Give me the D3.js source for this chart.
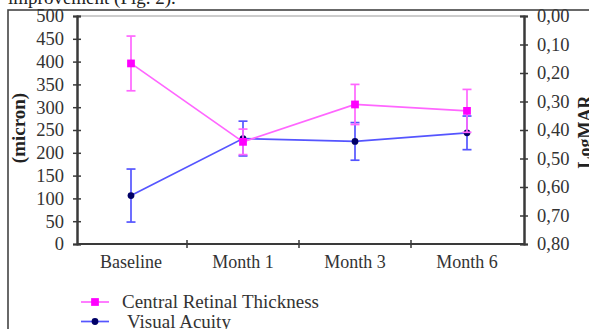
<!DOCTYPE html>
<html><head><meta charset="utf-8">
<script src="https://cdn.jsdelivr.net/npm/d3@7"></script>
<style>
html,body{margin:0;padding:0;background:#fff;overflow:hidden;}
svg{display:block;}
</style></head>
<body><svg id="c" width="589" height="329"></svg>
<script>
const categories = ["Baseline", "Month 1", "Month 3", "Month 6"];
const crtMean = [396, 224, 306, 292];
const crtErr  = [60, 28, 44, 47];
const vaMean  = [0.63, 0.43, 0.44, 0.41];
const vaErr   = [0.093, 0.061, 0.066, 0.059];
const leftTicks = [0, 50, 100, 150, 200, 250, 300, 350, 400, 450, 500];
const rightTicks = [0, 0.1, 0.2, 0.3, 0.4, 0.5, 0.6, 0.7, 0.8];
const seriesNames = ["Central Retinal Thickness", "Visual Acuity"];

const svg = d3.select("#c");
const font = "'Liberation Serif', 'DejaVu Serif', serif";
const axisCol = "#3a3a3a";
const pinkLine = "#ff66ff", pinkMark = "#ff00ff";
const blueLine = "#5555ff", blueMark = "#000066";

// caption fragment at top
svg.append("text").attr("x", 8).attr("y", 3.5).attr("font-family", font)
  .attr("font-size", 19).attr("fill", "#222").text("improvement (Fig. 2).");

// outer frame
svg.append("rect").attr("x", 8).attr("y", 10).attr("width", 600).attr("height", 340)
  .attr("fill", "none").attr("stroke", "#444").attr("stroke-width", 1.6);

const x = d3.scaleBand().domain(categories).range([75, 523]);
const yL = d3.scaleLinear().domain([0, 500]).range([244, 16]);
const yR = d3.scaleLinear().domain([0, 0.8]).range([16, 244]);
const cx = c => x(c) + x.bandwidth() / 2;

// top frame line
svg.append("line").attr("x1", 77).attr("x2", 524).attr("y1", 16).attr("y2", 16)
  .attr("stroke", "#999").attr("stroke-width", 1.2);

function styleAxis(g, fs) {
  g.select(".domain").attr("stroke", axisCol).attr("stroke-width", 2);
  g.selectAll(".tick line").attr("stroke", axisCol).attr("stroke-width", 1.5);
  g.selectAll("text").attr("font-family", font).attr("font-size", fs).attr("fill", "#333");
}

// left axis
const gl = svg.append("g").attr("transform", "translate(77,0)");
gl.call(d3.axisLeft(yL).tickValues(leftTicks).tickSize(4).tickPadding(9));
styleAxis(gl, 18.5);
const gl2 = svg.append("g").attr("transform", "translate(77,0)");
gl2.call(d3.axisLeft(yL).tickValues(leftTicks).tickSize(-4).tickFormat(""));
styleAxis(gl2, 18.5);

// right axis
const fmt = v => d3.format(".2f")(v).replace(".", ",");
const gr = svg.append("g").attr("transform", "translate(524,0)");
gr.call(d3.axisRight(yR).tickValues(rightTicks).tickSize(4).tickPadding(9).tickFormat(fmt));
styleAxis(gr, 18.5);
const gr2 = svg.append("g").attr("transform", "translate(524,0)");
gr2.call(d3.axisRight(yR).tickValues(rightTicks).tickSize(-4).tickFormat(""));
styleAxis(gr2, 18.5);

// bottom axis
const gb = svg.append("g").attr("transform", "translate(0,244)");
gb.call(d3.axisBottom(x).tickSize(0).tickPadding(11));
styleAxis(gb, 18);
gb.select(".domain").remove();
svg.append("line").attr("x1", 77).attr("x2", 524).attr("y1", 244).attr("y2", 244)
  .attr("stroke", axisCol).attr("stroke-width", 2);
const bounds = categories.slice(1).map(c => x(c));
svg.append("g").selectAll("line").data(bounds).join("line")
  .attr("x1", d => d).attr("x2", d => d).attr("y1", 240).attr("y2", 248)
  .attr("stroke", axisCol).attr("stroke-width", 1.5);

// axis titles
svg.append("text").attr("transform", "translate(25,128) rotate(-90)")
  .attr("text-anchor", "middle").attr("font-family", font).attr("font-weight", "bold")
  .attr("font-size", 19).attr("fill", "#222").text("(micron)");
svg.append("text").attr("transform", "translate(591,132) rotate(-90)")
  .attr("text-anchor", "middle").attr("font-family", font).attr("font-weight", "bold")
  .attr("font-size", 18).attr("fill", "#222").text("LogMAR");

// series drawing
function drawSeries(mean, err, y, lineCol, markCol, marker) {
  const g = svg.append("g");
  const pts = categories.map((c, i) => ({ c, m: mean[i], e: err[i] }));
  g.append("path").datum(pts)
    .attr("d", d3.line().x(d => cx(d.c)).y(d => y(d.m)))
    .attr("fill", "none").attr("stroke", lineCol).attr("stroke-width", 1.7);
  const eb = g.selectAll(".eb").data(pts).join("g");
  eb.append("line").attr("x1", d => cx(d.c)).attr("x2", d => cx(d.c))
    .attr("y1", d => y(d.m - d.e)).attr("y2", d => y(d.m + d.e))
    .attr("stroke", lineCol).attr("stroke-width", 1.7);
  [-1, 1].forEach(s => {
    eb.append("line").attr("x1", d => cx(d.c) - 4.5).attr("x2", d => cx(d.c) + 4.5)
      .attr("y1", d => y(d.m + s * d.e)).attr("y2", d => y(d.m + s * d.e))
      .attr("stroke", lineCol).attr("stroke-width", 1.7);
  });
  g.selectAll(".mk").data(pts).join("path")
    .attr("transform", d => `translate(${cx(d.c)},${y(d.m)})`)
    .attr("d", marker).attr("fill", markCol);
  return g;
}
const sq = d3.symbol(d3.symbolSquare, 60)();
const dia = d3.symbol(d3.symbolCircle, 36)();
drawSeries(vaMean, vaErr, yR, blueLine, blueMark, dia);
drawSeries(crtMean, crtErr, yL, pinkLine, pinkMark, sq);

// legend
const legend = [
  { name: seriesNames[0], line: pinkLine, mark: pinkMark, sym: sq, y: 302, tx: 122 },
  { name: seriesNames[1], line: blueLine, mark: blueMark, sym: dia, y: 321.5, tx: 127 }
];
const lg = svg.append("g").selectAll("g").data(legend).join("g");
lg.append("line").attr("x1", 81).attr("x2", 109).attr("y1", d => d.y).attr("y2", d => d.y)
  .attr("stroke", d => d.line).attr("stroke-width", 1.7);
lg.append("path").attr("transform", d => `translate(95,${d.y})`).attr("d", d => d.sym)
  .attr("fill", d => d.mark);
lg.append("text").attr("x", d => d.tx).attr("y", d => d.y + 6)
  .attr("font-family", font).attr("font-size", 19).attr("fill", "#333").text(d => d.name);
</script></body></html>
